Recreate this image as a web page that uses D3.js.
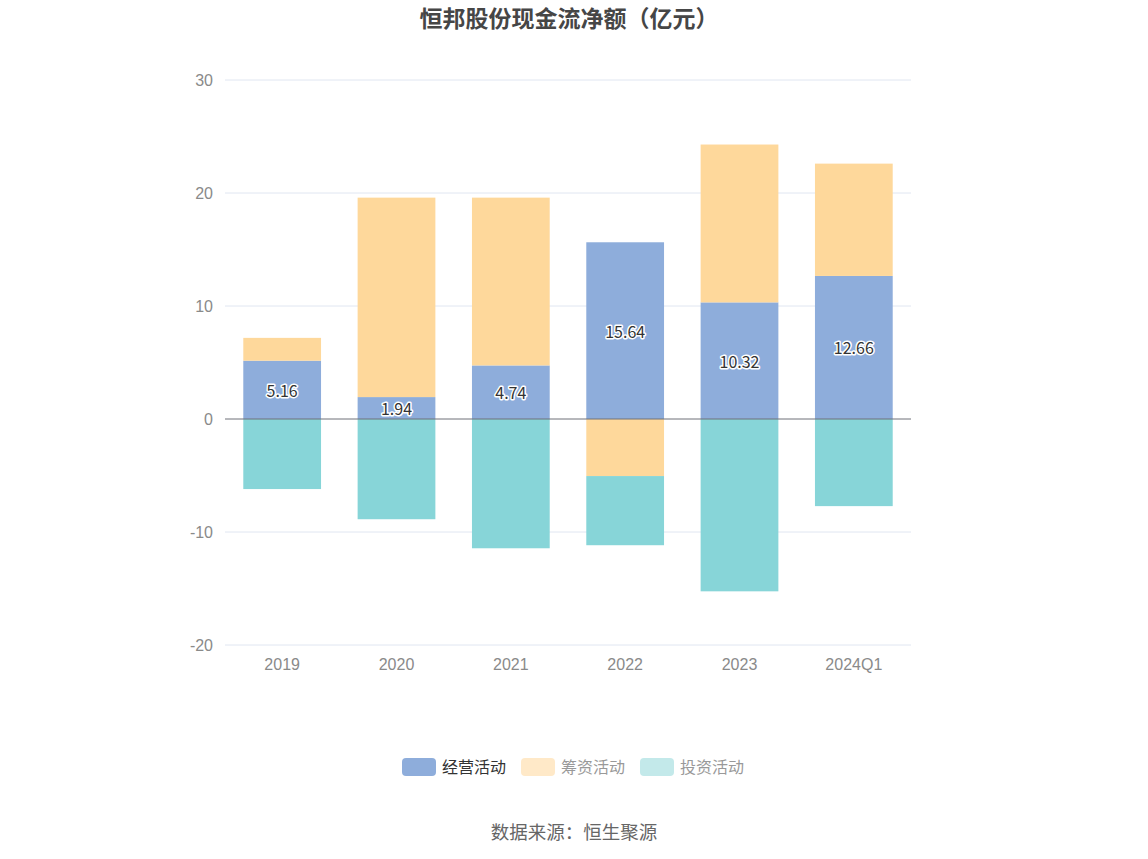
<!DOCTYPE html>
<html><head><meta charset="utf-8">
<script src="https://cdn.jsdelivr.net/npm/d3@7/dist/d3.min.js"></script>
<style>body{margin:0;background:#fff;} svg{display:block;font-family:"Noto Sans CJK SC","Noto Sans",sans-serif;}</style>
</head><body><div id="chart"></div>
<script>
const categories = ["2019","2020","2021","2022","2023","2024Q1"];
const operating = [5.16, 1.94, 4.74, 15.64, 10.32, 12.66];
const financing = [2.02, 17.65, 14.85, -5.05, 13.97, 9.94];
const investing = [-6.2, -8.87, -11.44, -6.12, -15.25, -7.71];
const seriesNames = ["经营活动","筹资活动","投资活动"];
const yTicks = [-20,-10,0,10,20,30];
const title = "恒邦股份现金流净额（亿元）";
const source = "数据来源：恒生聚源";

const W=1148,H=859;
const colors=["#8eaddb","#fed89b","#87d5d8"];
const legendColors=["#8eaddb","#ffe9c8","#c3e9ea"];
const svg=d3.select("#chart").append("svg").attr("width",W).attr("height",H);

const x=d3.scaleBand().domain(categories).range([225,911]).paddingInner(0.32).paddingOuter(0.16);
const y=d3.scaleLinear().domain([-20,30]).range([645,80]);

// grid
svg.append("g").selectAll("line").data(yTicks.filter(d=>d!==0)).join("line")
 .attr("x1",225).attr("x2",911).attr("y1",d=>y(d)).attr("y2",d=>y(d))
 .attr("stroke","#e0e6f1").attr("stroke-width",1);

// y labels
const yAxis=d3.axisLeft(y).tickValues(yTicks).tickSize(0).tickPadding(12).tickFormat(d=>String(d));
const ya=svg.append("g").attr("transform","translate(225,0)").call(yAxis);
ya.select(".domain").remove();
ya.selectAll("text").attr("fill","#8a8a8a").attr("font-size",16);

// x labels
const xAxis=d3.axisBottom(x).tickSize(0).tickPadding(8);
const xa=svg.append("g").attr("transform","translate(0,651)").call(xAxis);
xa.select(".domain").remove();
xa.selectAll("text").attr("fill","#8a8a8a").attr("font-size",16);

// stacked bars
const series=[operating,financing,investing];
categories.forEach((c,i)=>{
  let pos=0,neg=0;
  series.forEach((s,k)=>{
    const v=s[i];
    let y0,y1;
    if(v>=0){y0=pos;y1=pos+v;pos=y1;} else {y0=neg;y1=neg+v;neg=y1;}
    svg.append("rect").attr("x",x(c)).attr("width",x.bandwidth())
      .attr("y",y(Math.max(y0,y1))).attr("height",Math.abs(y(y0)-y(y1)))
      .attr("fill",colors[k]);
  });
});

// zero line
svg.append("line").attr("x1",225).attr("x2",911).attr("y1",y(0)).attr("y2",y(0))
 .attr("stroke","#6e7079").attr("stroke-width",1);

// labels
const lbl=svg.append("g");
categories.forEach((c,i)=>{
  const v=operating[i];
  lbl.append("text").attr("x",x(c)+x.bandwidth()/2).attr("y",y(v/2))
   .attr("text-anchor","middle").attr("dominant-baseline","central")
   .attr("font-size",16).attr("fill","#333")
   .attr("stroke","#fff").attr("stroke-width",3).attr("paint-order","stroke")
   .attr("stroke-linejoin","round").text(v.toFixed(2));
});

// title
svg.append("text").attr("x",569).attr("y",17).attr("text-anchor","middle").attr("dominant-baseline","central")
 .attr("font-size",23).attr("font-weight","bold").attr("fill","#464646").text(title);

// legend
const lx=[402,521,640];
seriesNames.forEach((n,k)=>{
  svg.append("rect").attr("x",lx[k]).attr("y",758).attr("width",34).attr("height",18).attr("rx",4)
   .attr("fill",legendColors[k]);
  svg.append("text").attr("x",lx[k]+40).attr("y",766).attr("dominant-baseline","central")
   .attr("font-size",16).attr("fill",k===0?"#333":"#999").text(n);
});

// source
svg.append("text").attr("x",574).attr("y",831).attr("text-anchor","middle").attr("dominant-baseline","central")
 .attr("font-size",18.5).attr("fill","#666").text(source);
</script></body></html>
